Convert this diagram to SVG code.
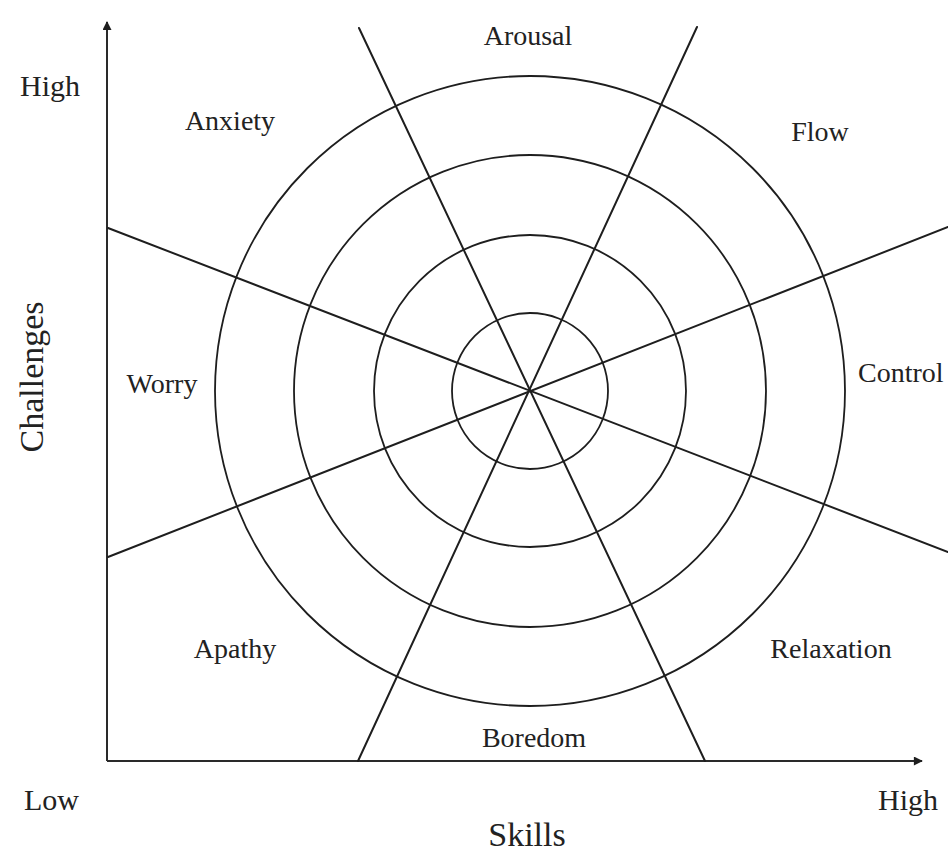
<svg xmlns="http://www.w3.org/2000/svg" width="948" height="854" viewBox="0 0 948 854">
<style>
.ln{stroke:#1e1e1e;stroke-width:2;fill:none;stroke-linecap:round}
.ring{stroke:#1e1e1e;stroke-width:1.8;fill:none}
.ax{stroke:#2a2a2a;stroke-width:2;fill:none}
.lb{font-family:"Liberation Serif","Times New Roman",serif;font-size:28px;fill:#222;text-anchor:middle}
.ends{font-family:"Liberation Serif","Times New Roman",serif;font-size:30px;fill:#222}
.ttl{font-family:"Liberation Serif","Times New Roman",serif;font-size:34px;fill:#222;text-anchor:middle}
</style>
<defs>
<marker id="arr" viewBox="0 0 10 10" refX="9" refY="5" markerWidth="10" markerHeight="9" markerUnits="userSpaceOnUse" orient="auto">
<path d="M0,0 L10,5 L0,10 Z" fill="#1e1e1e"/>
</marker>
</defs>
<rect width="948" height="854" fill="#ffffff"/>
<g id="axes">
<line class="ax" x1="107" y1="761" x2="107" y2="22" marker-end="url(#arr)"/>
<line class="ax" x1="107" y1="761" x2="922" y2="761" marker-end="url(#arr)"/>
</g>
<g id="rings">
<circle class="ring" cx="530" cy="391" r="78"/>
<circle class="ring" cx="530" cy="391" r="156"/>
<circle class="ring" cx="530" cy="391" r="236"/>
<circle class="ring" cx="530" cy="391" r="315"/>
</g>
<g id="connectors">
<line class="ln" x1="108" y1="228" x2="948" y2="552"/>
<line class="ln" x1="108" y1="557" x2="948" y2="227"/>
<line class="ln" x1="359" y1="28" x2="705" y2="761"/>
<line class="ln" x1="697" y1="27" x2="358" y2="761"/>
</g>
<g id="arousal"><text class="lb" x="528" y="45">Arousal</text></g>
<g id="anxiety"><text class="lb" x="230" y="130">Anxiety</text></g>
<g id="flow"><text class="lb" x="820" y="141">Flow</text></g>
<g id="worry"><text class="lb" x="162" y="393">Worry</text></g>
<g id="control"><text class="lb" x="858" y="382" style="text-anchor:start">Control</text></g>
<g id="apathy"><text class="lb" x="235" y="658">Apathy</text></g>
<g id="relaxation"><text class="lb" x="831" y="658">Relaxation</text></g>
<g id="boredom"><text class="lb" x="534" y="747">Boredom</text></g>
<g id="axis-labels">
<text class="ends" x="20" y="96">High</text>
<text class="ends" x="24" y="810">Low</text>
<text class="ends" x="878" y="810">High</text>
<text class="ttl" x="527" y="846">Skills</text>
<text class="ttl" transform="translate(43,377) rotate(-90)" x="0" y="0">Challenges</text>
</g>
</svg>
